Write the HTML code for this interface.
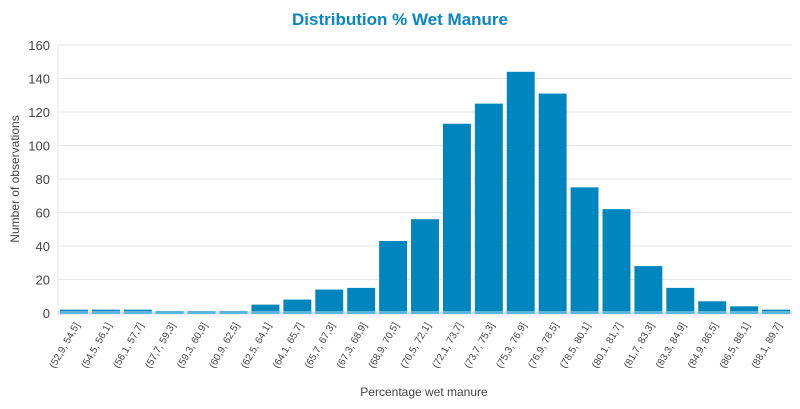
<!DOCTYPE html>
<html><head><meta charset="utf-8"><style>
html,body{margin:0;padding:0;background:#fff;}
svg text{font-family:"Liberation Sans",sans-serif;}
</style></head><body>
<svg id="chart" width="800" height="404" viewBox="0 0 800 404" xmlns="http://www.w3.org/2000/svg">
<text x="400" y="25" text-anchor="middle" font-size="17" font-weight="bold" fill="#0a86c4">Distribution % Wet Manure</text>
<text transform="translate(19,179) rotate(-90)" text-anchor="middle" font-size="12" fill="#444">Number of observations</text>
<text x="424" y="396" text-anchor="middle" font-size="12" fill="#444">Percentage wet manure</text>
<g id="grid"></g><g id="bars"></g><g id="xlabels"></g><g id="ylabels"></g>
</svg>
<script>
const categories=["(52,9, 54,5]","(54,5, 56,1]","(56,1, 57,7]","(57,7, 59,3]","(59,3, 60,9]","(60,9, 62,5]","(62,5, 64,1]","(64,1, 65,7]","(65,7, 67,3]","(67,3, 68,9]","(68,9, 70,5]","(70,5, 72,1]","(72,1, 73,7]","(73,7, 75,3]","(75,3, 76,9]","(76,9, 78,5]","(78,5, 80,1]","(80,1, 81,7]","(81,7, 83,3]","(83,3, 84,9]","(84,9, 86,5]","(86,5, 88,1]","(88,1, 89,7]"];
const counts=[2,2,2,1,1,1,5,8,14,15,43,56,113,125,144,131,75,62,28,15,7,4,2];
const yTicks=[0,20,40,60,80,100,120,140,160];
const NS="http://www.w3.org/2000/svg";
const x0=58,x1=792,y0=313,y1=45,yMax=160;
const band=(x1-x0)/categories.length;
const xs=i=>x0+i*band;
const ys=v=>y0-(v/yMax)*(y0-y1);
function mk(t,a,p){const e=document.createElementNS(NS,t);for(const k in a)e.setAttribute(k,a[k]);p.appendChild(e);return e;}
const grid=document.getElementById('grid'),bars=document.getElementById('bars'),xl=document.getElementById('xlabels'),yl=document.getElementById('ylabels');
mk('line',{x1:x0,x2:x0,y1:y1,y2:y0,stroke:'#e3e3e3','stroke-width':1},grid);
yTicks.forEach(t=>{
 const l=mk('line',{x1:x0,x2:x1,y1:ys(t),y2:ys(t),stroke:t===0?'#dcdcdc':'#e6e6e6','stroke-width':t===0?3:1},grid);
 
 
 const tx=mk('text',{x:x0-8,y:ys(t)+5,'text-anchor':'end','font-size':13,fill:'#444'},yl);
 tx.textContent=t;
 
 
});
counts.forEach((v,i)=>{
 const bx=xs(i)+2,bw=band-4;
 const r=mk('rect',{x:bx,y:ys(v),width:bw,height:y0-ys(v),fill:'#0085bf'},bars);
 
 
 const b=mk('rect',{x:bx,y:y0-2,width:bw,height:3,fill:'#5bb6dd'},bars);
 
 
 const cx=xs(i)+band/2+6;
 const t=mk('text',{transform:`translate(${cx},325) rotate(-60)`,'text-anchor':'end','font-size':10,fill:'#444'},xl);
 t.textContent=categories[i];
 
 
});
</script>
</body></html>
